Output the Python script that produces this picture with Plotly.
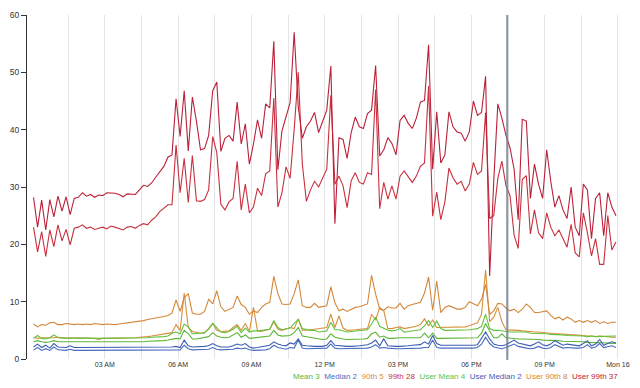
import plotly.graph_objects as go
import pandas as pd

# ---- data (10-minute samples, Sun 15 00:05 .. 23:55) ----
times = pd.date_range("2014-06-15 00:05", periods=144, freq="10min")

user_p99 = [
    28.2, 23.0, 27.7, 22.5, 27.8, 24.8, 28.4, 25.8, 28.3, 25.2, 28.0, 28.2,
    29.0, 28.4, 28.7, 28.2, 28.6, 28.5, 29.0, 29.0, 28.9, 28.7, 28.3, 28.8,
    28.8, 28.7, 29.5, 30.3, 30.1, 30.7, 31.7, 32.6, 33.6, 35.2, 35.6, 45.4,
    38.8, 46.8, 36.3, 45.7, 41.5, 36.5, 36.7, 39.0, 46.8, 48.3, 36.2, 38.5,
    39.0, 38.0, 44.8, 37.5, 41.0, 34.0, 37.5, 41.7, 38.5, 44.5, 43.8, 55.4,
    33.0, 39.8, 42.5, 44.7, 57.0, 44.0, 38.5, 40.5, 41.5, 43.0, 39.5, 41.6,
    43.4, 51.1, 23.6, 38.6, 38.3, 35.0, 39.5, 42.2, 40.5, 40.2, 42.8, 43.4,
    51.2, 35.4, 36.5, 38.6, 37.6, 35.6, 41.6, 42.5, 41.1, 40.2, 42.0, 44.8,
    45.1, 54.8, 33.1, 43.1, 34.2, 35.6, 43.1, 40.5, 39.6, 39.4, 38.0, 39.6,
    45.0, 42.5, 43.0, 49.3, 14.5, 31.0, 44.5, 42.0, 39.0, 36.8, 33.1, 24.3,
    41.8, 41.5, 28.0, 34.0, 30.5, 28.0, 36.5, 31.0, 26.5, 28.5, 26.0, 24.5,
    30.0, 23.0, 21.5, 30.5, 29.5, 21.0, 28.0, 29.0, 21.5, 29.0, 26.5, 25.0,
]
p99 = [
    23.0, 18.7, 22.2, 17.9, 22.5, 19.6, 23.4, 20.6, 22.6, 19.9, 22.8, 23.0,
    23.4, 22.8, 23.0, 22.6, 22.8, 23.0, 22.7, 23.2, 23.0, 22.8, 22.5, 23.0,
    23.1, 22.8, 23.3, 23.6, 23.4, 24.2, 24.8, 25.7, 26.3, 26.9, 26.9, 37.3,
    29.0, 35.0, 27.3, 35.5, 27.6, 27.5, 27.8, 29.5, 38.8, 36.0, 27.0, 26.0,
    27.4, 28.0, 34.5, 26.0, 30.5, 25.5, 26.5, 29.8, 28.5, 32.3, 32.8, 45.5,
    26.5, 29.0, 33.5, 31.5, 40.0, 50.0, 34.0, 27.5, 29.5, 31.0, 30.0, 31.5,
    33.1, 46.0, 30.5, 31.9, 30.2, 26.4, 31.1, 32.5, 30.8, 30.5, 32.5, 32.2,
    47.0, 26.2, 30.8, 27.9, 30.2, 27.9, 31.9, 32.8, 31.9, 30.8, 31.9, 33.6,
    34.2, 47.6, 24.9, 29.1, 24.3, 27.4, 33.3, 31.6, 30.5, 31.0, 29.3, 30.5,
    34.3, 32.2, 32.8, 43.0, 24.5, 25.0, 31.5, 34.5, 30.2, 28.5, 21.6, 19.3,
    31.3, 32.0, 21.8, 26.0, 22.0, 21.0, 25.5, 23.0, 21.5, 22.5, 21.0, 19.5,
    23.5, 18.5, 17.8, 25.5, 22.0, 18.0, 21.0, 16.5, 16.5, 25.0, 19.0, 20.4,
]
user_p90 = [
    6.1, 5.6, 6.0, 5.9, 6.3, 6.4, 6.0, 6.0, 6.2, 6.1, 6.0, 6.1,
    6.0, 6.1, 6.0, 6.2, 6.1, 6.0, 6.1, 6.0, 6.0, 6.1, 6.2, 6.2,
    6.3, 6.4, 6.6, 6.7, 6.9, 7.0, 7.2, 7.3, 7.4, 7.6, 8.0, 10.3,
    8.3, 10.7, 11.4, 8.0, 7.8, 7.8, 8.3, 10.4, 9.6, 11.9, 9.1, 8.3,
    8.7, 9.0, 11.0, 9.5, 9.0, 7.8, 8.4, 8.1, 9.0, 9.6, 9.9, 14.4,
    11.4, 9.6, 9.5, 9.6, 11.4, 13.8, 9.3, 9.0, 9.0, 9.7, 9.0, 9.1,
    9.3, 12.6, 9.8, 8.4, 8.7, 8.3, 8.7, 9.0, 9.1, 9.3, 9.6, 14.6,
    11.3, 8.7, 8.5, 9.1, 8.9, 8.9, 9.7, 8.7, 9.3, 9.5, 9.7, 9.9,
    11.5, 14.3, 8.5, 13.6, 8.1, 9.0, 9.3, 9.0, 8.7, 8.7, 9.0, 10.0,
    9.6, 9.3, 10.4, 13.0, 7.8, 8.4, 9.7, 9.6, 8.9, 8.4, 8.7, 8.1,
    8.7, 9.6, 9.0, 8.1, 8.1, 8.3, 8.4, 7.6, 7.0, 7.3, 6.8, 7.3,
    7.0, 6.4, 6.7, 6.4, 6.7, 6.4, 6.7, 6.2, 6.5, 6.2, 6.4, 6.4,
]
p90 = [
    3.8, 3.6, 3.7, 3.7, 3.6, 3.7, 3.8, 3.7, 3.6, 3.6, 3.7, 3.7,
    3.6, 3.6, 3.7, 3.6, 3.4, 3.6, 3.6, 3.6, 3.6, 3.6, 3.7, 3.7,
    3.7, 3.7, 3.8, 3.8, 3.9, 4.0, 4.1, 4.2, 4.3, 4.4, 4.6, 6.0,
    5.0, 11.5, 5.5, 4.8, 4.6, 4.5, 4.6, 5.3, 6.2, 5.0, 4.8, 4.8,
    4.9, 5.5, 6.0, 5.0, 6.2, 4.8, 9.0, 4.9, 4.8, 5.0, 5.2, 6.5,
    5.2, 5.0, 5.2, 5.5, 5.3, 7.0, 5.0, 5.0, 5.1, 5.2, 5.3, 5.3,
    5.5, 7.8, 5.5, 7.5, 5.4, 5.0, 5.0, 5.1, 5.2, 5.3, 5.3, 7.8,
    6.8, 9.0, 8.4, 5.3, 5.3, 5.5, 5.6, 5.3, 5.4, 5.5, 5.7, 6.0,
    7.0, 5.8, 6.8, 5.5, 5.5, 5.5, 5.5, 5.6, 5.5, 5.5, 5.6, 5.8,
    6.0, 6.3, 7.8, 15.5, 6.5, 7.3, 9.0, 6.5, 5.1, 5.1, 5.0, 5.0,
    4.9, 4.8, 4.8, 4.7, 4.7, 4.6, 4.5, 4.5, 4.4, 4.4, 4.3, 4.3,
    4.2, 4.2, 4.1, 4.1, 4.0, 4.0, 3.9, 4.0, 3.9, 3.9, 3.8, 3.8,
]
user_mean = [
    3.6, 4.1, 3.6, 3.5, 3.7, 4.2, 3.7, 3.6, 3.6, 3.7, 3.6, 3.6,
    3.6, 3.7, 3.6, 3.6, 3.6, 3.6, 3.6, 3.6, 3.6, 3.6, 3.6, 3.6,
    3.6, 3.7, 3.7, 3.7, 3.7, 3.8, 3.8, 3.9, 3.9, 4.0, 4.5, 4.7,
    4.4, 6.1, 5.6, 4.4, 4.4, 4.5, 4.6, 5.2, 6.2, 5.4, 4.7, 4.6,
    4.8, 5.2, 5.7, 4.6, 5.4, 4.7, 4.9, 4.9, 5.0, 5.1, 5.2, 6.7,
    5.5, 5.1, 5.3, 5.4, 6.2, 6.9, 5.3, 5.1, 5.0, 5.0, 4.7, 4.8,
    4.9, 6.4, 5.1, 5.1, 4.9, 4.7, 4.8, 4.9, 5.0, 5.0, 5.1, 6.1,
    7.3, 5.7, 5.4, 5.0, 4.9, 5.0, 5.3, 4.7, 4.8, 4.9, 5.0, 5.1,
    5.8, 6.7, 5.5, 6.6, 5.3, 5.0, 5.0, 5.0, 5.0, 5.0, 5.1, 5.1,
    5.2, 5.3, 5.7, 7.8, 5.3, 5.0, 5.0, 4.9, 4.7, 4.7, 4.7, 4.7,
    4.6, 4.7, 4.5, 4.5, 4.4, 4.4, 4.4, 4.3, 4.3, 4.3, 4.2, 4.1,
    4.1, 4.0, 4.1, 4.0, 3.9, 4.0, 3.9, 3.9, 3.9, 3.9, 4.0, 4.0,
]
mean = [
    3.0, 3.2, 3.0, 2.9, 3.0, 3.2, 3.0, 3.0, 3.0, 3.0, 2.9, 3.0,
    3.0, 3.0, 3.0, 3.0, 2.9, 3.0, 3.0, 3.0, 3.0, 3.0, 3.0, 3.0,
    3.0, 3.0, 3.0, 3.0, 3.1, 3.1, 3.1, 3.2, 3.2, 3.3, 3.4, 3.6,
    3.5, 5.0, 4.4, 3.5, 3.5, 3.6, 3.7, 3.9, 4.6, 4.0, 3.8, 3.7,
    3.8, 4.2, 4.6, 3.8, 4.2, 3.6, 3.7, 3.7, 3.8, 3.9, 4.0, 5.0,
    4.2, 4.0, 4.0, 4.1, 4.6, 5.5, 4.0, 3.9, 3.8, 3.7, 3.5, 3.4,
    3.5, 4.4, 3.8, 3.6, 3.5, 3.4, 3.4, 3.5, 3.5, 3.5, 3.6, 4.4,
    4.7, 3.8, 4.0, 3.6, 3.6, 3.7, 3.7, 3.7, 3.7, 3.7, 3.7, 3.7,
    4.5, 3.7, 4.5, 3.6, 3.6, 3.6, 3.6, 3.6, 3.6, 3.6, 3.6, 3.7,
    3.7, 3.7, 4.5, 6.2, 4.9, 3.7, 3.7, 4.4, 3.7, 3.6, 3.6, 3.5,
    3.5, 3.5, 3.5, 3.4, 3.4, 3.3, 3.3, 3.3, 3.2, 3.2, 3.1, 3.1,
    3.0, 3.0, 3.0, 3.0, 2.9, 2.9, 2.9, 2.8, 2.8, 2.8, 2.7, 2.7,
]
user_median = [
    2.1, 2.6, 2.0, 2.4, 1.9, 2.7, 2.1, 2.0, 2.0, 2.3, 2.0, 2.0,
    2.0, 2.0, 2.1, 2.0, 2.0, 2.0, 2.0, 2.0, 2.0, 2.0, 2.0, 2.0,
    2.0, 2.0, 2.0, 2.0, 2.0, 2.0, 2.0, 2.0, 2.0, 2.0, 2.1, 2.2,
    2.0, 3.3, 2.3, 2.1, 2.1, 2.1, 2.2, 2.3, 2.7, 2.3, 2.1, 2.1,
    2.1, 2.3, 2.6, 2.4, 2.7, 2.1, 1.9, 2.0, 2.1, 2.2, 2.4, 3.0,
    2.6, 2.4, 2.3, 2.8, 2.6, 3.5, 2.4, 2.3, 2.2, 2.2, 2.2, 2.2,
    2.4, 3.2, 2.4, 2.3, 2.2, 2.2, 2.2, 2.2, 2.3, 2.4, 2.5, 2.8,
    3.3, 2.3, 3.5, 2.3, 2.2, 2.2, 2.2, 2.2, 2.3, 2.4, 2.4, 2.5,
    3.0, 2.6, 4.1, 2.7, 2.4, 2.4, 2.3, 2.3, 2.3, 2.3, 2.3, 2.3,
    2.4, 2.5, 3.5, 4.7, 3.5, 2.6, 2.4, 2.3, 2.5, 2.9, 3.3, 2.8,
    2.6, 2.4, 2.3, 2.6, 3.0, 2.5, 2.3, 2.6, 3.2, 2.8, 2.4, 2.6,
    2.5, 2.3, 2.3, 2.7, 3.2, 2.3, 2.6, 3.4, 2.4, 2.7, 3.0, 2.8,
]
median = [
    1.55, 2.0, 1.5, 1.8, 1.5, 2.1, 1.6, 1.5, 1.5, 1.7, 1.5, 1.5,
    1.5, 1.5, 1.6, 1.5, 1.5, 1.5, 1.5, 1.5, 1.5, 1.5, 1.5, 1.5,
    1.5, 1.5, 1.5, 1.5, 1.5, 1.5, 1.5, 1.5, 1.5, 1.5, 1.6, 1.6,
    1.6, 2.4, 1.8, 1.6, 1.6, 1.6, 1.7, 1.7, 2.0, 1.7, 1.6, 1.6,
    1.6, 1.7, 1.9, 1.8, 1.9, 1.6, 1.5, 1.5, 1.6, 1.6, 1.8, 2.4,
    2.0, 1.8, 1.7, 2.0, 1.9, 3.3, 1.9, 1.8, 1.8, 1.8, 1.8, 1.8,
    1.9, 2.6, 1.9, 1.8, 1.8, 1.8, 1.8, 1.8, 1.8, 1.9, 1.9, 2.1,
    2.5, 1.9, 2.0, 1.9, 1.8, 1.8, 1.8, 1.8, 1.8, 1.9, 1.9, 1.9,
    2.0, 2.0, 3.3, 2.0, 1.9, 1.9, 1.9, 1.9, 1.8, 1.8, 1.8, 1.8,
    1.9, 2.0, 2.6, 3.8, 2.7, 2.1, 1.9, 1.8, 2.0, 2.3, 2.6, 2.2,
    2.0, 1.9, 1.8, 1.9, 2.2, 1.9, 1.8, 2.0, 2.5, 2.2, 1.9, 2.0,
    1.9, 1.9, 1.9, 2.0, 2.5, 1.9, 2.1, 2.7, 2.0, 2.1, 2.3, 2.0,
]

series_names = ["Mean", "Median", "90th", "99th",
                "User Mean", "User Median", "User 90th", "User 99th"]
legend_values = [3, 2, 5, 28, 4, 2, 8, 37]
series_data = [mean, median, p90, p99, user_mean, user_median, user_p90, user_p99]
colors = ["#5cb534", "#4a6bc0", "#d88f3c", "#c8303e",
          "#62c23c", "#3c5db4", "#d3873a", "#bb2039"]

tick_times = pd.date_range("2014-06-15 01:30", "2014-06-16 00:00", freq="90min")
tick_labels = ["", "03 AM", "", "06 AM", "", "09 AM", "", "12 PM",
               "", "03 PM", "", "06 PM", "", "09 PM", "", "Mon 16"]
hover_time = "2014-06-15 19:28"

FONT = "Liberation Sans, Arial, Helvetica, sans-serif"

fig = go.Figure()
draw_order = [0, 1, 2, 4, 5, 6, 3, 7]
for k in draw_order:
    fig.add_trace(go.Scatter(
        x=times, y=series_data[k], mode="lines", name=series_names[k],
        line=dict(color=colors[k], width=1.1), hoverinfo="skip"))

fig.add_shape(type="line", xref="x", yref="paper",
              x0=hover_time, x1=hover_time, y0=-0.003, y1=1,
              line=dict(color="rgba(110,125,142,0.8)", width=2))

legend_text = "&nbsp;&nbsp;".join(
    f"<span style='color:{c}'>{n} {v}</span>"
    for n, v, c in zip(series_names, legend_values, colors))
fig.add_annotation(text=legend_text, xref="paper", yref="paper",
                   x=1.0, y=-0.052, xanchor="right", yanchor="middle",
                   showarrow=False, font=dict(size=8, family=FONT))

fig.update_layout(
    width=640, height=388,
    margin=dict(l=23, r=15, t=10, b=29),
    paper_bgcolor="white", plot_bgcolor="white",
    showlegend=False,
    font=dict(family=FONT, color="#333333"),
    xaxis=dict(
        range=["2014-06-14 23:49", "2014-06-16 00:05"],
        tickmode="array", tickvals=tick_times, ticktext=tick_labels,
        showgrid=True, gridcolor="#e4e4e4", gridwidth=1,
        showline=False, zeroline=False, ticks="",
        tickfont=dict(size=7, color="#333333")),
    yaxis=dict(
        range=[0, 60], tickvals=[0, 10, 20, 30, 40, 50, 60],
        showgrid=False, zeroline=False,
        showline=True, linecolor="#333333", linewidth=1,
        ticks="outside", ticklen=5, tickcolor="#333333",
        tickfont=dict(size=8.5, color="#333333")),
)

fig.write_html("out.html", config={"displayModeBar": False},
               post_script="document.body.style.margin='0';")
